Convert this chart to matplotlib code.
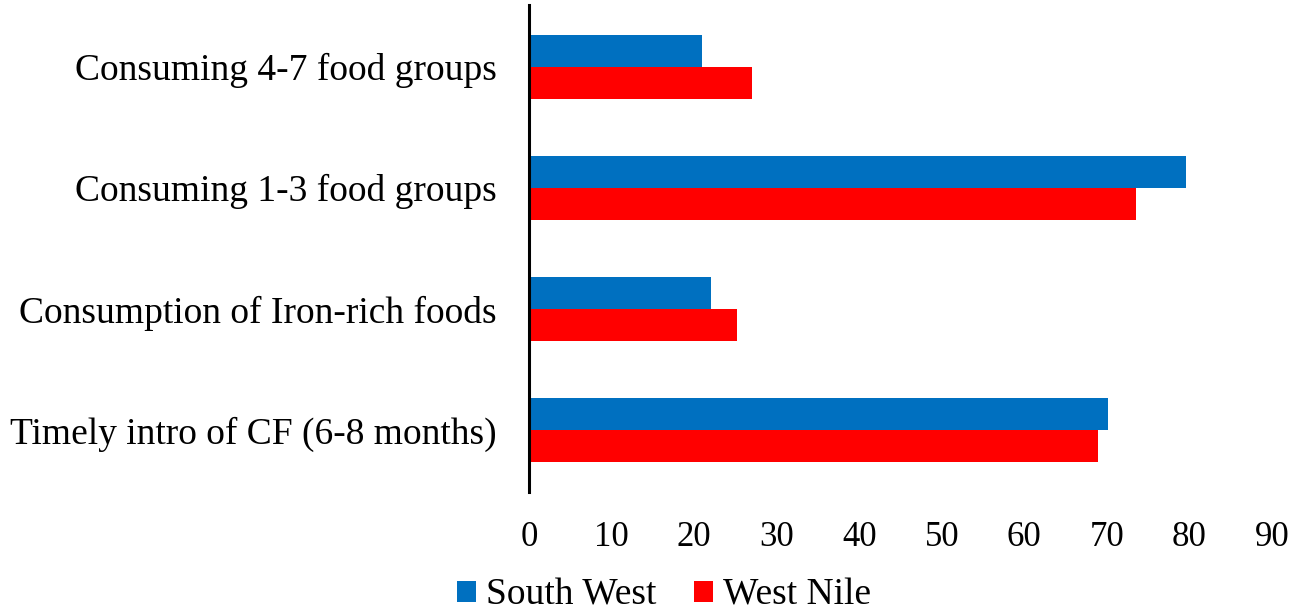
import matplotlib
matplotlib.use("Agg")
import matplotlib.pyplot as plt
import numpy as np

categories = ["Timely intro of CF (6-8 months)", "Consumption of Iron-rich foods",
              "Consuming 1-3 food groups", "Consuming 4-7 food groups"]
south_west = [70.1, 22.0, 79.6, 20.9]
west_nile = [68.9, 25.2, 73.5, 27.0]
series_names = ["South West", "West Nile"]
colors = ["#0070C0", "#FF0000"]
xticks = [0, 10, 20, 30, 40, 50, 60, 70, 80, 90]

plt.rcParams["font.family"] = ["Liberation Serif", "DejaVu Serif"]

fig = plt.figure(figsize=(12.97, 6.15), dpi=100)
ax = fig.add_axes([0.4079, 0.2, 0.5728, 0.7919])

y = np.arange(len(categories))
h = 0.265
ax.barh(y + h / 2, south_west, height=h, color=colors[0], label=series_names[0])
ax.barh(y - h / 2, west_nile, height=h, color=colors[1], label=series_names[1])

ax.set_xlim(0, 90)
ax.set_ylim(-0.51, 3.51)
ax.set_xticks(xticks)
ax.set_xticklabels([str(t) for t in xticks], fontsize=25)
ax.set_yticks(y)
ax.set_yticklabels(categories, fontsize=27)
ax.tick_params(axis="x", length=0, pad=21)
ax.tick_params(axis="y", length=0, pad=23)

for s in ["top", "right", "bottom"]:
    ax.spines[s].set_visible(False)
ax.spines["left"].set_linewidth(2.2)
ax.spines["left"].set_color("black")

fig.legend(loc="center", bbox_to_anchor=(0.512, 0.032), ncol=2, frameon=False,
           fontsize=27, handlelength=0.5, handleheight=0.5, handletextpad=0.27,
           columnspacing=1.0, borderpad=0.0)

fig.savefig("out.png", dpi=100)
